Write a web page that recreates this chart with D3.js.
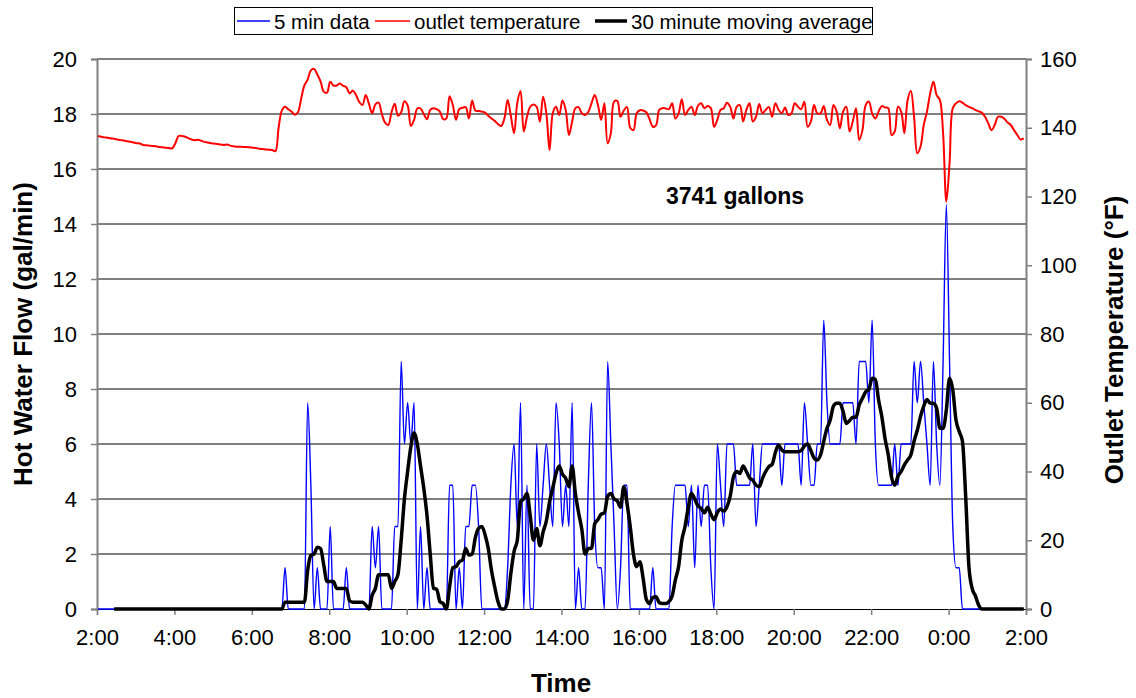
<!DOCTYPE html>
<html><head><meta charset="utf-8">
<script src="https://cdn.jsdelivr.net/npm/d3@7"></script>
<style>
body{margin:0;background:#fff}
svg{display:block}
text{font-family:"Liberation Sans",Arial,sans-serif;fill:#000}
</style>
</head><body><svg id="chart" width="1136" height="698"></svg>
<script>
// 5-minute samples, one row per hour starting at 2:00
const flow5min = [
0,0,0,0,0,0,0,0,0,0,0,0,
0,0,0,0,0,0,0,0,0,0,0,0,
0,0,0,0,0,0,0,0,0,0,0,0,
0,0,0,0,0,0,0,0,0,0,0,0,
0,0,0,0,0,0,0,0,0,0,1.5,0,
0,0,0,0,0,7.5,4.5,0,1.5,0,0,0,
3,0,0,0,0,1.5,0,0,0,0,0,0,
0,3,1.5,3,0,0,0,0,3,3,9,6,
7.5,6,7.5,0,3,0,1.5,0,0,0,0,0,
0,4.5,4.5,0,1.5,0,3,3,4.5,4.5,3,0,
0,0,0,0,0,0,0,1.5,4.5,6,3,7.5,
0,4.5,0,0,6,3,4.5,6,4.5,3,7.5,6,
3,4.5,3,7.5,0,1.5,0,0,4.5,7.5,3,1.5,
1.5,0,9,6,3,0,1.5,4.5,4.5,0,0,0,
0,0,0,0,1.5,0,0,0,0,0,3,4.5,
4.5,4.5,4.5,3,4.5,1.5,4.5,3,4.5,4.5,1.5,0,
6,4.5,3,6,6,6,4.5,4.5,4.5,4.5,4.5,6,
3,4.5,6,6,6,6,6,6,4.5,6,6,6,
6,6,4.5,7.5,6,4.5,4.5,6,6,10.5,7.5,6,
6,6,6,7.5,7.5,7.5,7.5,6,9,9,9,7.5,
10.5,6,4.5,4.5,4.5,4.5,4.5,6,4.5,6,6,6,
6,9,7.5,9,7.5,6,4.5,9,6,4.5,9,14.7,
9,3,1.5,1.5,0,0,0,0,0,0,0,0,
0,0,0,0,0,0,0,0,0,0,0,0
];
const flow30avg = [
null,null,null,null,null,0,0,0,0,0,0,0,
0,0,0,0,0,0,0,0,0,0,0,0,
0,0,0,0,0,0,0,0,0,0,0,0,
0,0,0,0,0,0,0,0,0,0,0,0,
0,0,0,0,0,0,0,0,0,0,0.25,0.25,
0.25,0.25,0.25,0.25,0.25,1.4,1.95,2.0,2.25,2.2,1.6,1.0,
1.0,1.0,0.75,0.75,0.75,0.75,0.3,0.25,0.25,0.25,0.25,0.15,
0,0.5,0.75,1.25,1.25,1.25,1.25,0.75,1.0,1.25,2.5,4.0,
5.0,5.9,6.4,6.0,5.2,4.4,3.4,2.0,0.75,0.72,0.27,0.2,
0,0.8,1.5,1.54,1.72,1.78,2.2,1.96,2.0,2.6,2.93,3.0,
2.7,2.2,1.4,0.8,0.27,0,0,0.3,1.3,2.1,2.5,3.9,
4.0,4.2,3.4,2.5,2.93,2.3,2.8,3.2,3.9,4.4,4.93,5.2,
4.9,4.75,4.45,5.2,4.2,3.5,2.9,2.0,2.2,2.2,3.1,3.25,
3.45,3.5,4.1,4.2,4.0,3.93,3.7,4.45,3.84,3.0,2.0,1.54,
1.72,1.12,0.35,0.2,0.42,0.45,0.23,0.2,0.2,0.27,0.47,1.06,
1.54,2.5,3.0,3.7,4.2,4.0,3.75,3.66,3.5,3.7,3.45,3.25,
3.5,3.64,3.56,3.72,4.1,4.8,5.0,4.93,5.2,5.0,4.77,4.69,
4.5,4.45,4.75,5.0,5.18,5.26,5.69,5.96,5.78,5.72,5.72,5.72,
5.72,5.72,5.76,5.93,6.0,5.76,5.49,5.42,5.6,6.1,6.57,6.87,
7.38,7.48,7.48,7.18,6.75,6.85,6.97,6.97,7.42,7.66,7.9,7.99,
8.39,8.35,7.6,7.0,6.2,5.6,4.8,4.5,4.83,5.0,5.24,5.42,
5.6,6.1,6.5,7.0,7.38,7.62,7.48,7.48,7.3,6.57,6.57,7.24,
8.39,7.96,6.87,6.45,6.1,4.09,1.55,0.75,0.48,0.15,0,0,
0,0,0,0,0,0,0,0,0,0,0,0
];
const outletTemp = [
137.6,137.4,137.2,137.1,136.9,136.8,136.6,136.4,136.3,136.1,135.9,135.7,
135.5,135.4,135.0,134.9,134.8,134.7,134.6,134.4,134.3,134.2,134.1,134.0,
135.5,137.6,137.6,137.4,137.0,136.6,136.4,136.5,136.2,135.9,135.7,135.5,
135.4,135.3,135.1,135.0,135.1,134.8,134.6,134.5,134.5,134.4,134.4,134.3,
134.2,134.1,133.9,133.8,133.7,133.6,133.5,133.2,140,145,146.1,145.4,
144.7,143.8,144.5,148.5,152.3,154,156.7,157.1,155.5,153.5,150.5,150.2,
153.4,152.3,152.3,152.9,152.2,151.8,150,150.8,149.5,147.5,146.6,149.5,
147,144.2,146.8,147.3,144,141.5,140.8,144.5,147,143.5,144.5,147.7,
146.5,140.5,142.3,145.6,145.6,144,142.5,145.2,145.7,145.4,144.7,142.5,
142.7,149.2,146.6,142.3,145.4,145.8,146,142.7,147.9,145,144.9,144.7,
144.4,143.5,142.7,142,141.1,140.5,142.7,148.1,143.4,138.4,147.3,150.7,
138.9,143.2,146.1,146.8,146.1,141.8,149,144.2,133.5,144.2,146.1,143.7,
147.9,145.2,137.9,141.8,145.7,146,144.2,143.7,144.6,147.1,149.5,146.6,
142.3,147.1,135.5,138.4,147.6,147.8,143.2,145,146,140,139.3,144.2,
145.1,145,144.5,142.5,140.3,140.7,145.2,145.7,145.6,145.4,147.1,142.7,
144.2,148.3,143.7,145.2,146.1,143.7,146.4,147.1,145.7,146.3,145.7,140.3,
142.3,145.2,145.7,147.3,146.1,142.7,146.1,146.6,141.8,145.2,147.1,141.8,
143.2,146.9,144.2,145.2,146,143.2,147.1,145.2,144.2,145.9,143.7,144.2,
147.1,146.1,145.4,147.6,140.3,141.8,146.6,144.2,144.2,146.3,142.3,140.8,
146.6,144.7,139.8,144.7,146.1,138.9,141.8,145.7,136.4,139.3,146.6,147.6,
144.2,142.7,144.7,146.3,145.9,145.7,137.9,138.9,146.1,144.7,138.4,148.1,
150.7,143.2,132.6,134.5,140.8,144.7,150,153.4,149.5,148.1,138.4,118.5,
129.6,145.7,147.1,147.7,147.3,146.6,146.1,145.7,145.2,144.8,144.4,143.2,
141.3,139.3,140.8,143.2,143.2,142.6,141.5,140.8,139.3,137.9,136.6,136.9
];
const xTickLabels = ["2:00","4:00","6:00","8:00","10:00","12:00","14:00","16:00","18:00","20:00","22:00","0:00","2:00"];
const xTickMinutes = [0,120,240,360,480,600,720,840,960,1080,1200,1320,1440];
const leftTicks = [0,2,4,6,8,10,12,14,16,18,20];
const rightTicks = [0,20,40,60,80,100,120,140,160];
const seriesNames = ["5 min data","outlet temperature","30 minute moving average"];
const totalLabel = "3741 gallons";
const sampleStepMin = 5, sampleOffsetMin = 1.5;

const svg = d3.select("#chart");
const L = 97, R = 1026, T = 59, B = 609;
const x = d3.scaleLinear().domain([0,1440]).range([L,R]);
const yL = d3.scaleLinear().domain([0,20]).range([B,T]);
const yR = d3.scaleLinear().domain([0,160]).range([B,T]);
const tOf = i => sampleOffsetMin + sampleStepMin*i;

// gridlines
svg.append("g").selectAll("line").data(leftTicks.filter(d=>d>0)).join("line")
  .attr("x1",L).attr("x2",R).attr("y1",d=>yL(d)).attr("y2",d=>yL(d))
  .attr("stroke","#000").attr("stroke-width",1);

// axes
const fs = 22;
const gL = svg.append("g").attr("transform",`translate(${L},0)`)
  .call(d3.axisLeft(yL).tickValues(leftTicks).tickSize(6).tickPadding(14));
const gR = svg.append("g").attr("transform",`translate(${R},0)`)
  .call(d3.axisRight(yR).tickValues(rightTicks).tickSize(6).tickPadding(8));
const gB = svg.append("g").attr("transform",`translate(0,${B})`)
  .call(d3.axisBottom(x).tickValues(xTickMinutes).tickFormat((d,i)=>xTickLabels[i]).tickSize(6).tickPadding(14));
[gL,gR,gB].forEach(g=>{
  g.selectAll("text").attr("font-size",fs).attr("font-family",'"Liberation Sans",Arial,sans-serif').attr("fill","#000");
  g.selectAll("line").attr("stroke","#808080").attr("stroke-width",1.5);
  g.select(".domain").attr("stroke","#808080").attr("stroke-width",2);
});
gB.select(".domain").attr("stroke","#000").attr("stroke-width",1.2);

// series
const lineBlue = d3.line().x((d,i)=>x(tOf(i))).y(d=>yL(d)).curve(d3.curveMonotoneX);
svg.append("path").attr("d",lineBlue(flow5min)).attr("fill","none").attr("stroke","#0000ff").attr("stroke-width",1.4);

const lineRed = d3.line().x((d,i)=>x(tOf(i))).y(d=>yR(d)).curve(d3.curveCatmullRom.alpha(0.5));
svg.append("path").attr("d",lineRed(outletTemp)).attr("fill","none").attr("stroke","#ff0000").attr("stroke-width",2);

const lineBlack = d3.line().defined(d=>d!==null).x((d,i)=>x(tOf(i))).y(d=>yL(d)).curve(d3.curveMonotoneX);
svg.append("path").attr("d",lineBlack(flow30avg)).attr("fill","none").attr("stroke","#000").attr("stroke-width",3.5).attr("stroke-linejoin","round");

// annotation
svg.append("text").attr("x",666).attr("y",204).attr("font-size",23).attr("font-weight","bold").text(totalLabel);

// axis titles
svg.append("text").attr("transform","translate(32,334) rotate(-90)").attr("text-anchor","middle")
  .attr("font-size",26).attr("font-weight","bold").text("Hot Water Flow (gal/min)");
svg.append("text").attr("transform","translate(1123,340) rotate(-90)").attr("text-anchor","middle")
  .attr("font-size",26).attr("font-weight","bold").text("Outlet Temperature (°F)");
svg.append("text").attr("x",561).attr("y",692).attr("text-anchor","middle")
  .attr("font-size",26).attr("font-weight","bold").text("Time");

// legend
const lg = svg.append("g");
lg.append("rect").attr("x",234.5).attr("y",7.5).attr("width",638).attr("height",27).attr("fill","#fff").attr("stroke","#000");
const items = [
  {name:seriesNames[0], color:"#0000ff", w:1.5, x:237, len:33},
  {name:seriesNames[1], color:"#ff0000", w:1.5, x:375, len:35},
  {name:seriesNames[2], color:"#000", w:3.5, x:595, len:32}
];
items.forEach(it=>{
  lg.append("line").attr("x1",it.x).attr("x2",it.x+it.len).attr("y1",21).attr("y2",21).attr("stroke",it.color).attr("stroke-width",it.w);
  lg.append("text").attr("x",it.x+it.len+4).attr("y",28.5).attr("font-size",20.5).text(it.name);
});
</script>
</body></html>
